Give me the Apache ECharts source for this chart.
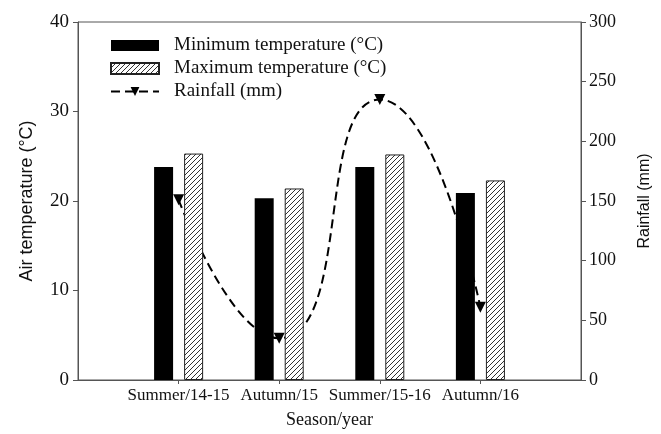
<!DOCTYPE html>
<html>
<head>
<meta charset="utf-8">
<script src="https://cdn.jsdelivr.net/npm/echarts@6/dist/echarts.min.js"></script>
<style>
  html, body { margin: 0; padding: 0; background: #fff; }
  #main { width: 661px; height: 434px; }
</style>
</head>
<body>
<div id="main"></div>
<script>
  // season / year categories
  var seasons = ['Summer/14-15', 'Autumn/15', 'Summer/15-16', 'Autumn/16'];
  var minTemp = [23.8, 20.3, 23.8, 20.9];
  var maxTemp = [25.3, 21.4, 25.2, 22.3];
  var rainfall = [151, 35, 235, 61];

  // hatch pattern for max temperature bars
  function hatch() {
    var s = 5;
    var c = document.createElement('canvas');
    c.width = s; c.height = s;
    var ctx = c.getContext('2d');
    ctx.fillStyle = '#fff';
    ctx.fillRect(0, 0, s, s);
    ctx.strokeStyle = '#333';
    ctx.lineWidth = 1;
    ctx.beginPath();
    ctx.moveTo(0, s); ctx.lineTo(s, 0);
    ctx.moveTo(-1, 1); ctx.lineTo(1, -1);
    ctx.moveTo(s - 1, s + 1); ctx.lineTo(s + 1, s - 1);
    ctx.stroke();
    return { image: c, repeat: 'repeat' };
  }

  function pairs(arr) {
    return arr.map(function (v, i) { return [i + 1, v]; });
  }

  var serif = 'Liberation Serif';
  var sans = 'Liberation Sans';
  var axisCol = '#555';

  var myChart = echarts.init(document.getElementById('main'));
  myChart.setOption({
    animation: false,
    grid: {
      left: 78, right: 80, top: 22, bottom: 51,
      show: true, borderColor: axisCol, borderWidth: 1
    },
    legend: {
      left: 105, top: 31,
      orient: 'vertical',
      itemWidth: 48, itemHeight: 11, itemGap: 4,
      textStyle: { fontFamily: serif, fontSize: 19, color: '#111', padding: [0, 0, 0, 10] },
      data: [
        { name: 'Minimum temperature (°C)', icon: 'rect' },
        { name: 'Maximum temperature (°C)', icon: 'rect' },
        'Rainfall (mm)'
      ]
    },
    xAxis: {
      type: 'value', min: 0, max: 5, interval: 1,
      name: 'Season/year', nameLocation: 'middle', nameGap: 31,
      nameTextStyle: { fontFamily: serif, fontSize: 18, color: '#111' },
      splitLine: { show: false },
      axisLine: { lineStyle: { color: axisCol } },
      axisTick: { show: true, length: 4, lineStyle: { color: axisCol }, customValues: [1, 2, 3, 4] },
      axisLabel: {
        fontFamily: serif, fontSize: 17, color: '#111', margin: 7,
        customValues: [1, 2, 3, 4],
        formatter: function (v) { return seasons[v - 1] || ''; }
      }
    },
    yAxis: [
      {
        type: 'value', min: 0, max: 40, interval: 10,
        name: 'Air temperature (°C)', nameLocation: 'middle', nameGap: 42,
        nameTextStyle: { fontFamily: sans, fontSize: 18, color: '#111' },
        splitLine: { show: false },
        axisLine: { show: true, lineStyle: { color: axisCol } },
        axisTick: { show: true, length: 5, lineStyle: { color: axisCol } },
        axisLabel: { fontFamily: serif, fontSize: 19, color: '#111', margin: 9 }
      },
      {
        type: 'value', min: 0, max: 300, interval: 50,
        name: 'Rainfall (mm)', nameLocation: 'middle', nameGap: 56,
        nameTextStyle: { fontFamily: sans, fontSize: 16, color: '#111' },
        splitLine: { show: false },
        axisLine: { show: true, lineStyle: { color: axisCol } },
        axisTick: { show: true, length: 5, lineStyle: { color: axisCol } },
        axisLabel: { fontFamily: serif, fontSize: 18, color: '#111', margin: 8 }
      }
    ],
    series: [
      {
        name: 'Minimum temperature (°C)', type: 'bar',
        barWidth: 19, barGap: '58%', z: 3,
        itemStyle: { color: '#000' },
        data: pairs(minTemp)
      },
      {
        name: 'Maximum temperature (°C)', type: 'bar',
        barWidth: 19, barGap: '58%', z: 3,
        itemStyle: { color: hatch(), borderColor: '#222', borderWidth: 1 },
        data: pairs(maxTemp)
      },
      {
        name: 'Rainfall (mm)', type: 'line', yAxisIndex: 1,
        smooth: 0.6, z: 1,
        symbol: 'triangle', symbolRotate: 180, symbolSize: 11,
        lineStyle: { color: '#000', width: 2, type: [9, 5] },
        itemStyle: { color: '#000' },
        data: pairs(rainfall)
      }
    ]
  });
</script>
</body>
</html>
